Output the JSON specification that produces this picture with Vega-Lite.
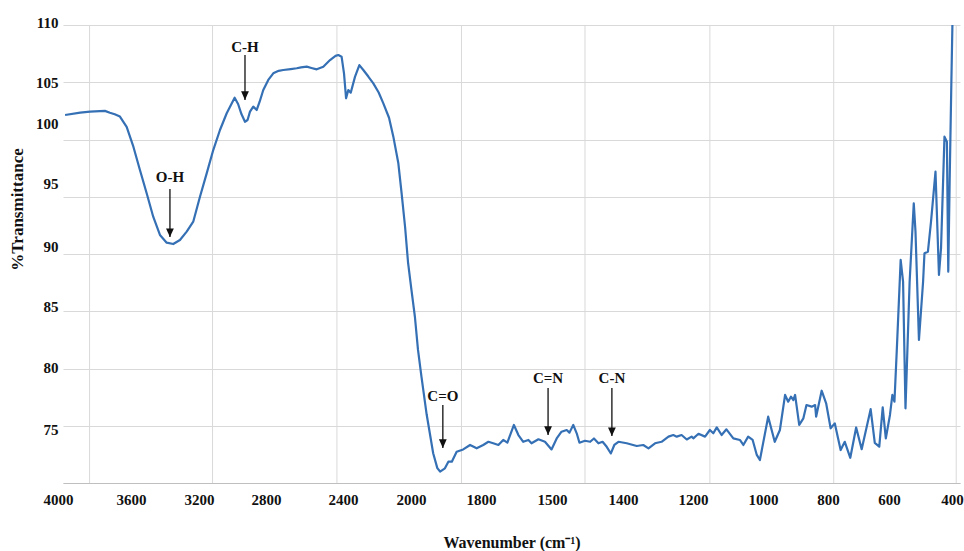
{
  "$schema": "https://vega.github.io/schema/vega-lite/v6.json",
  "width": 897,
  "height": 458,
  "autosize": "none",
  "padding": {"left": 63, "top": 25, "right": 4, "bottom": 68},
  "background": "white",
  "config": {"view": {"stroke": null}, "font": "Liberation Serif"},
  "datasets": {
    "spectrum": [
      {"wn": 3988, "t": 102.14}, {"wn": 3900, "t": 102.35}, {"wn": 3843, "t": 102.43}, {"wn": 3757, "t": 102.5},
      {"wn": 3728, "t": 102.34}, {"wn": 3700, "t": 102.2}, {"wn": 3670, "t": 102.0}, {"wn": 3631, "t": 101.1},
      {"wn": 3592, "t": 99.37}, {"wn": 3554, "t": 97.34}, {"wn": 3515, "t": 95.3}, {"wn": 3477, "t": 93.26},
      {"wn": 3438, "t": 91.66}, {"wn": 3399, "t": 90.99}, {"wn": 3361, "t": 90.87}, {"wn": 3322, "t": 91.22},
      {"wn": 3283, "t": 91.95}, {"wn": 3245, "t": 92.82}, {"wn": 3206, "t": 95.0}, {"wn": 3167, "t": 97.04},
      {"wn": 3129, "t": 99.08}, {"wn": 3090, "t": 100.83}, {"wn": 3051, "t": 102.29}, {"wn": 3005, "t": 103.65},
      {"wn": 2985, "t": 103.1}, {"wn": 2965, "t": 102.2}, {"wn": 2945, "t": 101.55}, {"wn": 2930, "t": 101.7},
      {"wn": 2916, "t": 102.43}, {"wn": 2897, "t": 102.87}, {"wn": 2877, "t": 102.58}, {"wn": 2860, "t": 103.3},
      {"wn": 2839, "t": 104.32}, {"wn": 2810, "t": 105.2}, {"wn": 2781, "t": 105.78}, {"wn": 2750, "t": 106.0},
      {"wn": 2723, "t": 106.07}, {"wn": 2680, "t": 106.15}, {"wn": 2645, "t": 106.22}, {"wn": 2620, "t": 106.3},
      {"wn": 2587, "t": 106.36}, {"wn": 2560, "t": 106.25}, {"wn": 2529, "t": 106.13}, {"wn": 2491, "t": 106.36},
      {"wn": 2452, "t": 106.94}, {"wn": 2420, "t": 107.3}, {"wn": 2404, "t": 107.38}, {"wn": 2385, "t": 107.23},
      {"wn": 2371, "t": 105.78}, {"wn": 2359, "t": 103.6}, {"wn": 2346, "t": 104.32}, {"wn": 2332, "t": 104.09},
      {"wn": 2307, "t": 105.49}, {"wn": 2282, "t": 106.5}, {"wn": 2259, "t": 106.07}, {"wn": 2230, "t": 105.5},
      {"wn": 2201, "t": 104.9}, {"wn": 2170, "t": 104.1}, {"wn": 2143, "t": 103.16}, {"wn": 2110, "t": 101.9},
      {"wn": 2085, "t": 100.25}, {"wn": 2056, "t": 97.92}, {"wn": 2037, "t": 95.3}, {"wn": 2017, "t": 92.38},
      {"wn": 2000, "t": 89.3}, {"wn": 1990, "t": 86.86}, {"wn": 1980, "t": 84.52}, {"wn": 1971, "t": 81.62},
      {"wn": 1961, "t": 79.29}, {"wn": 1946, "t": 76.0}, {"wn": 1927, "t": 72.6}, {"wn": 1915, "t": 71.3},
      {"wn": 1907, "t": 71.0}, {"wn": 1893, "t": 71.28}, {"wn": 1883, "t": 71.86}, {"wn": 1873, "t": 71.86},
      {"wn": 1859, "t": 72.73}, {"wn": 1840, "t": 72.93}, {"wn": 1820, "t": 73.32}, {"wn": 1801, "t": 73.03},
      {"wn": 1782, "t": 73.32}, {"wn": 1767, "t": 73.6}, {"wn": 1753, "t": 73.47}, {"wn": 1738, "t": 73.32},
      {"wn": 1724, "t": 73.76}, {"wn": 1712, "t": 73.52}, {"wn": 1693, "t": 75.07}, {"wn": 1680, "t": 74.19},
      {"wn": 1666, "t": 73.6}, {"wn": 1651, "t": 73.76}, {"wn": 1642, "t": 73.47}, {"wn": 1622, "t": 73.82},
      {"wn": 1603, "t": 73.6}, {"wn": 1584, "t": 72.93}, {"wn": 1569, "t": 73.89}, {"wn": 1555, "t": 74.48},
      {"wn": 1540, "t": 74.63}, {"wn": 1532, "t": 74.4}, {"wn": 1521, "t": 75.07}, {"wn": 1511, "t": 74.34},
      {"wn": 1503, "t": 73.52}, {"wn": 1487, "t": 73.69}, {"wn": 1472, "t": 73.6}, {"wn": 1461, "t": 73.89},
      {"wn": 1448, "t": 73.47}, {"wn": 1436, "t": 73.6}, {"wn": 1424, "t": 73.16}, {"wn": 1412, "t": 72.58},
      {"wn": 1402, "t": 73.32}, {"wn": 1390, "t": 73.6}, {"wn": 1366, "t": 73.47}, {"wn": 1337, "t": 73.23},
      {"wn": 1318, "t": 73.32}, {"wn": 1303, "t": 73.03}, {"wn": 1284, "t": 73.47}, {"wn": 1265, "t": 73.6},
      {"wn": 1245, "t": 74.05}, {"wn": 1231, "t": 74.19}, {"wn": 1221, "t": 74.05}, {"wn": 1207, "t": 74.19},
      {"wn": 1192, "t": 73.8}, {"wn": 1178, "t": 74.05}, {"wn": 1173, "t": 73.9}, {"wn": 1158, "t": 74.3},
      {"wn": 1139, "t": 74.05}, {"wn": 1125, "t": 74.63}, {"wn": 1115, "t": 74.34}, {"wn": 1105, "t": 74.86},
      {"wn": 1091, "t": 74.19}, {"wn": 1077, "t": 74.69}, {"wn": 1057, "t": 73.9}, {"wn": 1038, "t": 73.76},
      {"wn": 1028, "t": 73.32}, {"wn": 1014, "t": 74.05}, {"wn": 1001, "t": 73.76}, {"wn": 989, "t": 72.45},
      {"wn": 980, "t": 72.01}, {"wn": 956, "t": 75.79}, {"wn": 937, "t": 73.6}, {"wn": 922, "t": 74.63},
      {"wn": 907, "t": 77.69}, {"wn": 898, "t": 77.1}, {"wn": 890, "t": 77.54}, {"wn": 883, "t": 77.25},
      {"wn": 878, "t": 77.69}, {"wn": 866, "t": 75.07}, {"wn": 854, "t": 75.65}, {"wn": 845, "t": 76.81},
      {"wn": 830, "t": 76.67}, {"wn": 820, "t": 76.81}, {"wn": 817, "t": 75.79}, {"wn": 801, "t": 78.06},
      {"wn": 788, "t": 76.96}, {"wn": 775, "t": 74.78}, {"wn": 763, "t": 75.21}, {"wn": 746, "t": 72.88},
      {"wn": 734, "t": 73.6}, {"wn": 718, "t": 72.2}, {"wn": 701, "t": 74.85}, {"wn": 685, "t": 72.95},
      {"wn": 659, "t": 76.45}, {"wn": 647, "t": 73.5}, {"wn": 634, "t": 73.17}, {"wn": 624, "t": 76.6},
      {"wn": 615, "t": 73.9}, {"wn": 603, "t": 75.94}, {"wn": 596, "t": 77.69}, {"wn": 590, "t": 77.1},
      {"wn": 583, "t": 81.76}, {"wn": 572, "t": 89.48}, {"wn": 565, "t": 87.58}, {"wn": 558, "t": 76.52},
      {"wn": 546, "t": 87.58}, {"wn": 534, "t": 94.42}, {"wn": 529, "t": 91.95}, {"wn": 519, "t": 82.49},
      {"wn": 507, "t": 87.58}, {"wn": 503, "t": 90.06}, {"wn": 493, "t": 90.2}, {"wn": 484, "t": 92.82},
      {"wn": 471, "t": 97.19}, {"wn": 461, "t": 88.17}, {"wn": 455, "t": 90.5}, {"wn": 445, "t": 100.25},
      {"wn": 438, "t": 99.81}, {"wn": 434, "t": 88.46}, {"wn": 430, "t": 96.32}, {"wn": 425, "t": 105.05},
      {"wn": 422, "t": 110.0}
    ],
    "grid": [
      {"wn": 3846}, {"wn": 3133}, {"wn": 2412}, {"wn": 1845}, {"wn": 1487}, {"wn": 1125}, {"wn": 766}, {"wn": 411}
    ],
    "notes": [
      {"label": "O-H", "wn": 3380, "ty": 96.72, "y1": 95.68, "y2": 91.48},
      {"label": "C-H", "wn": 2945, "ty": 108.08, "y1": 107.38, "y2": 103.45},
      {"label": "C=O", "wn": 1899, "ty": 77.6, "y1": 76.81, "y2": 73.06},
      {"label": "C=N", "wn": 1594, "ty": 79.17, "y1": 78.3, "y2": 74.19},
      {"label": "C-N", "wn": 1409, "ty": 79.17, "y1": 78.3, "y2": 74.1}
    ]
  },
  "layer": [
    {
      "data": {"name": "grid"},
      "mark": {"type": "rule", "color": "#d9d9d9", "strokeWidth": 1},
      "encoding": {
        "x": {
          "field": "wn", "type": "quantitative",
          "scale": {"domain": [4000, 2000, 400], "range": [0, 345, 897], "nice": false, "zero": false},
          "axis": {
            "values": [4000, 3600, 3200, 2800, 2400, 2000, 1800, 1600, 1400, 1200, 1000, 800, 600, 400],
            "format": "d",
            "labelExpr": "datum.value == 1600 ? '1500' : datum.label",
            "labelOffset": {"expr": "datum.value==4000?-5:datum.value==3600?-1:datum.value==3200?-2:datum.value==2800?-4:datum.value==2400?4:datum.value==2000?3:datum.value==1800?4:datum.value==1600?6:datum.value==1400?8:datum.value==1200?9:datum.value==1000?10:datum.value==800?6:datum.value==600?-2:datum.value==400?-8:0"},
            "grid": false, "ticks": false,
            "domainColor": "#bfbfbf", "domainWidth": 1,
            "labelFont": "Liberation Serif", "labelFontWeight": "bold", "labelFontSize": 15, "labelColor": "#111111",
            "labelPadding": 9, "labelOverlap": false, "labelFlush": false, "labelBound": false,
            "title": "Wavenumber (cm⁻¹)",
            "titleFont": "Liberation Serif", "titleFontWeight": "bold", "titleFontSize": 16, "titleColor": "#111111",
            "titleY": 59, "titleBaseline": "middle"
          }
        }
      }
    },
    {
      "data": {"name": "spectrum"},
      "mark": {"type": "line", "color": "#3570b5", "strokeWidth": 2.2, "strokeJoin": "round"},
      "encoding": {
        "x": {
          "field": "wn", "type": "quantitative",
          "scale": {"domain": [4000, 2000, 400], "range": [0, 345, 897], "nice": false, "zero": false}
        },
        "y": {
          "field": "t", "type": "quantitative",
          "scale": {"domain": [70, 110], "nice": false, "zero": false},
          "axis": {
            "values": [70, 75, 80, 85, 90, 95, 100, 105, 110],
            "labelExpr": "datum.value == 70 ? '' : datum.label",
            "labelOffset": {"expr": "datum.value==110?-3:datum.value==100?-16:datum.value==95?-13:datum.value==90?-8:datum.value==85?-5:datum.value==80?-1:datum.value==75?4:0"},
            "grid": true, "gridColor": "#d9d9d9", "gridWidth": 1,
            "domain": false, "ticks": false,
            "labelFont": "Liberation Serif", "labelFontWeight": "bold", "labelFontSize": 15, "labelColor": "#111111",
            "labelPadding": 5,
            "title": "%Transmittance",
            "titleFont": "Liberation Serif", "titleFontWeight": "bold", "titleFontSize": 17, "titleColor": "#111111",
            "titleX": -46, "titleY": 184, "titleAngle": -90, "titleAlign": "center", "titleBaseline": "middle"
          }
        }
      }
    },
    {
      "data": {"name": "notes"},
      "mark": {"type": "rule", "color": "#111111", "strokeWidth": 1.3},
      "encoding": {
        "x": {"field": "wn", "type": "quantitative", "scale": {"domain": [4000, 2000, 400], "range": [0, 345, 897], "nice": false, "zero": false}},
        "y": {"field": "y1", "type": "quantitative"},
        "y2": {"field": "y2"}
      }
    },
    {
      "data": {"name": "notes"},
      "mark": {"type": "point", "shape": "M -0.45 -1 L 0.45 -1 L 0 0 Z", "size": 300, "filled": true, "color": "#111111", "opacity": 1, "strokeWidth": 0},
      "encoding": {
        "x": {"field": "wn", "type": "quantitative", "scale": {"domain": [4000, 2000, 400], "range": [0, 345, 897], "nice": false, "zero": false}},
        "y": {"field": "y2", "type": "quantitative"}
      }
    },
    {
      "data": {"name": "notes"},
      "mark": {"type": "text", "font": "Liberation Serif", "fontWeight": "bold", "fontSize": 15, "color": "#111111", "baseline": "middle", "align": "center"},
      "encoding": {
        "x": {"field": "wn", "type": "quantitative", "scale": {"domain": [4000, 2000, 400], "range": [0, 345, 897], "nice": false, "zero": false}},
        "y": {"field": "ty", "type": "quantitative"},
        "text": {"field": "label"}
      }
    }
  ]
}
